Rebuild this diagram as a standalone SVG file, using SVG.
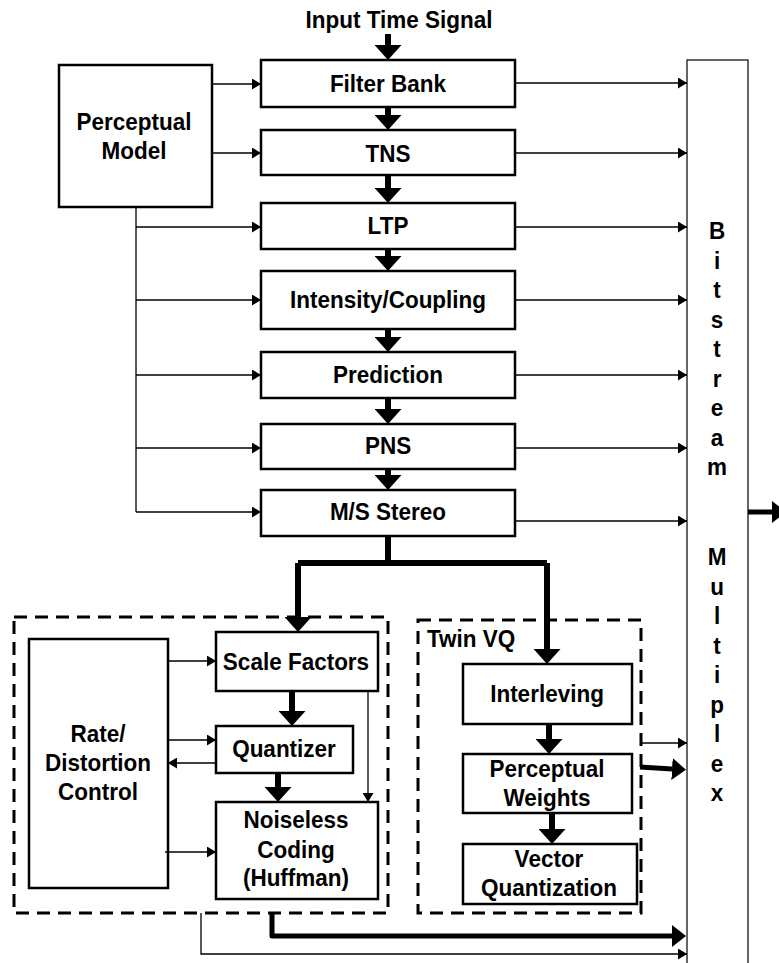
<svg xmlns="http://www.w3.org/2000/svg" width="779" height="963" viewBox="0 0 779 963">
<defs>
<marker id="ah" markerUnits="userSpaceOnUse" markerWidth="9" markerHeight="11" viewBox="0 0 9 11" refX="9" refY="5.5" orient="auto"><path d="M0,0 L9,5.5 L0,11 z" fill="#000"/></marker>
<marker id="th" markerUnits="userSpaceOnUse" markerWidth="15" markerHeight="27" viewBox="0 0 15 27" refX="0" refY="13.5" orient="auto"><path d="M0,0 L15,13.5 L0,27 z" fill="#000"/></marker>
<marker id="tb" markerUnits="userSpaceOnUse" markerWidth="14" markerHeight="22" viewBox="0 0 14 22" refX="0" refY="11" orient="auto"><path d="M0,0 L14,11 L0,22 z" fill="#000"/></marker>
</defs>
<style>
text{font-family:"Liberation Sans",Arial,sans-serif;font-weight:bold;font-size:22.5px;fill:#000;text-anchor:middle}
.box{fill:#fff;stroke:#000;stroke-width:2.5}
.bs{fill:#fff;stroke:#000;stroke-width:1.2}
.dash{fill:none;stroke:#000;stroke-width:3;stroke-dasharray:13 8}
.thin{fill:none;stroke:#000;stroke-width:1.3;marker-end:url(#ah)}
.line{fill:none;stroke:#000;stroke-width:1.3}
.thick{fill:none;stroke:#000;stroke-width:6;stroke-linejoin:round;marker-end:url(#th)}
.thickb{fill:none;stroke:#000;stroke-width:5;stroke-linejoin:round;marker-end:url(#tb)}
</style>
<rect width="779" height="963" fill="#fff"/>

<g id="bitstream">
<rect class="bs" x="687" y="60" width="61" height="915"/>
<text transform="translate(717 239) scale(1 1.1)">B</text>
<text transform="translate(717 268.5) scale(1 1.1)">i</text>
<text transform="translate(717 298) scale(1 1.1)">t</text>
<text transform="translate(717 327.5) scale(1 1.1)">s</text>
<text transform="translate(717 357) scale(1 1.1)">t</text>
<text transform="translate(717 386.5) scale(1 1.1)">r</text>
<text transform="translate(717 416) scale(1 1.1)">e</text>
<text transform="translate(717 445.5) scale(1 1.1)">a</text>
<text transform="translate(717 475) scale(1 1.1)">m</text>
<text transform="translate(717 565) scale(1 1.1)">M</text>
<text transform="translate(717 594.5) scale(1 1.1)">u</text>
<text transform="translate(717 624) scale(1 1.1)">l</text>
<text transform="translate(717 653.5) scale(1 1.1)">t</text>
<text transform="translate(717 683) scale(1 1.1)">i</text>
<text transform="translate(717 712.5) scale(1 1.1)">p</text>
<text transform="translate(717 742) scale(1 1.1)">l</text>
<text transform="translate(717 771.5) scale(1 1.1)">e</text>
<text transform="translate(717 801) scale(1 1.1)">x</text>
</g>

<g id="input"><text transform="translate(399 28) scale(1 1.1)">Input Time Signal</text></g>

<g id="perceptual-model">
<rect class="box" x="59" y="65" width="153" height="142"/>
<text transform="translate(134 130) scale(1 1.1)">Perceptual</text>
<text transform="translate(134 159) scale(1 1.1)">Model</text>
</g>

<g id="filter-bank"><rect class="box" x="261" y="60" width="254" height="47"/><text transform="translate(388 92) scale(1 1.1)">Filter Bank</text></g>
<g id="tns"><rect class="box" x="261" y="130" width="254" height="45"/><text transform="translate(388 162) scale(1 1.1)">TNS</text></g>
<g id="ltp"><rect class="box" x="261" y="203" width="254" height="46"/><text transform="translate(388 234) scale(1 1.1)">LTP</text></g>
<g id="intensity"><rect class="box" x="261" y="271" width="254" height="58"/><text transform="translate(388 308) scale(1 1.1)">Intensity/Coupling</text></g>
<g id="prediction"><rect class="box" x="261" y="352" width="254" height="46"/><text transform="translate(388 383) scale(1 1.1)">Prediction</text></g>
<g id="pns"><rect class="box" x="261" y="424" width="254" height="45"/><text transform="translate(388 454) scale(1 1.1)">PNS</text></g>
<g id="ms-stereo"><rect class="box" x="261" y="490" width="254" height="46"/><text transform="translate(388 520) scale(1 1.1)">M/S Stereo</text></g>

<g id="aac-group"><rect class="dash" x="14" y="617" width="374" height="296"/></g>
<g id="rate-distortion">
<rect class="box" x="29" y="639" width="139" height="249"/>
<text transform="translate(98 742) scale(1 1.1)">Rate/</text>
<text transform="translate(98 771) scale(1 1.1)">Distortion</text>
<text transform="translate(98 800) scale(1 1.1)">Control</text>
</g>
<g id="scale-factors"><rect class="box" x="216" y="632" width="162" height="59"/><text transform="translate(296 670) scale(1 1.1)">Scale Factors</text></g>
<g id="quantizer"><rect class="box" x="216" y="726" width="137" height="47"/><text transform="translate(284 757) scale(1 1.1)">Quantizer</text></g>
<g id="noiseless"><rect class="box" x="216" y="802" width="162" height="97"/>
<text transform="translate(296 828) scale(1 1.1)">Noiseless</text>
<text transform="translate(296 858) scale(1 1.1)">Coding</text>
<text transform="translate(296 886) scale(1 1.1)">(Huffman)</text></g>

<g id="twinvq-group"><rect class="dash" x="418" y="620" width="223" height="293"/><text transform="translate(427 647) scale(1 1.1)" style="text-anchor:start">Twin VQ</text></g>
<g id="interleving"><rect class="box" x="463" y="664" width="169" height="60"/><text transform="translate(547 702) scale(1 1.1)">Interleving</text></g>
<g id="perceptual-weights"><rect class="box" x="463" y="754" width="169" height="59"/>
<text transform="translate(547 777) scale(1 1.1)">Perceptual</text>
<text transform="translate(547 806) scale(1 1.1)">Weights</text></g>
<g id="vector-quantization"><rect class="box" x="463" y="844" width="174" height="60"/>
<text transform="translate(549 867) scale(1 1.1)">Vector</text>
<text transform="translate(549 896) scale(1 1.1)">Quantization</text></g>

<g id="connectors">
<path class="thick" d="M388,34 V45"/>
<path class="thick" d="M388,107 V115"/>
<path class="thick" d="M388,175 V188"/>
<path class="thick" d="M388,249 V256"/>
<path class="thick" d="M388,329 V337"/>
<path class="thick" d="M388,398 V409"/>
<path class="thick" d="M388,469 V475"/>
<path class="thin" d="M212,84 H261"/>
<path class="thin" d="M212,153 H261"/>
<path class="line" d="M136,207 V512"/>
<path class="thin" d="M136,227 H261"/>
<path class="thin" d="M136,300 H261"/>
<path class="thin" d="M136,375 H261"/>
<path class="thin" d="M136,448 H261"/>
<path class="thin" d="M136,512 H261"/>
<path class="thin" d="M515,83 H687"/>
<path class="thin" d="M515,153 H687"/>
<path class="thin" d="M515,227 H687"/>
<path class="thin" d="M515,300 H687"/>
<path class="thin" d="M515,375 H687"/>
<path class="thin" d="M515,448 H687"/>
<path class="thin" d="M515,521 H687"/>
<path class="thickb" d="M748,512 H772"/>
<path style="fill:none;stroke:#000;stroke-width:6;stroke-linejoin:round" d="M388,536 V563 M298,563 H547"/>
<path class="thick" d="M298,563 V617"/>
<path class="thick" d="M547,563 V649"/>
<path class="thin" d="M168,661 H216"/>
<path class="thin" d="M168,740 H216"/>
<path class="thin" d="M216,763 H168"/>
<path class="thin" d="M165,852 H216"/>
<path class="thin" d="M368,691 V802"/>
<path class="thick" d="M292,691 V711"/>
<path class="thick" d="M278,773 V787"/>
<path class="thick" d="M549,724 V739"/>
<path class="thick" d="M552,813 V829"/>
<path class="thin" d="M642,743 H687"/>
<path class="thickb" d="M640,767 L672,769"/>
<path class="thickb" d="M272,913 V936 H672"/>
<path class="thin" d="M201,913 V954 H687"/>
</g>
</svg>
